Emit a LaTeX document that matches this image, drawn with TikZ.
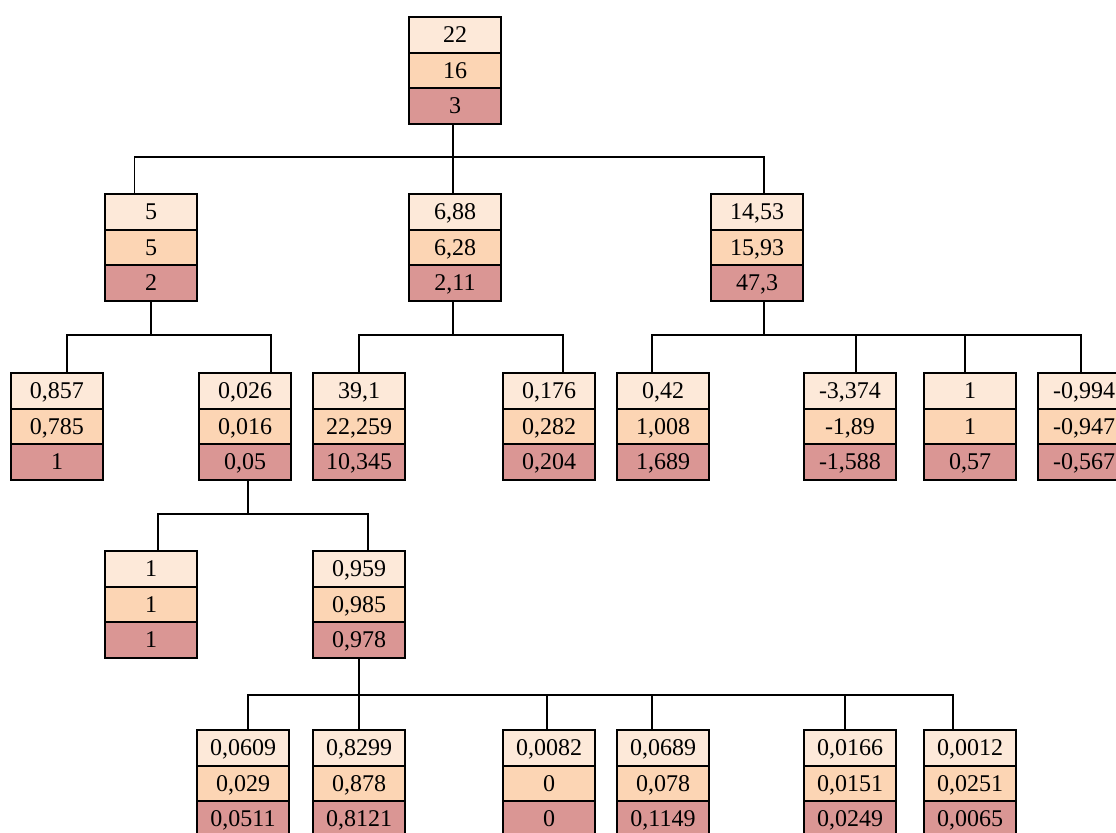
\documentclass[tikz,border=0pt]{standalone}
\usepackage{fontspec}
\setmainfont{Liberation Serif}
\definecolor{cA}{HTML}{FDE9D9}
\definecolor{cB}{HTML}{FCD5B4}
\definecolor{cC}{HTML}{DA9694}
\tikzset{
  cellbase/.style={draw=black,line width=1pt,minimum width=46pt,minimum height=17.75pt,
    inner sep=0pt,outer sep=0pt,text height=0.82em,text depth=0em,
    font=\fontsize{12}{14}\selectfont,anchor=north},
  cella/.style={cellbase,fill=cA},
  cellb/.style={cellbase,fill=cB},
  cellc/.style={cellbase,fill=cC},
  conn/.style={draw=black,line width=0.65pt}
}
\newcommand\tri[6]{%
  \node[cella] (#1) at ({#2+47},{#3+1}) {#4};
  \node[cellb] (#1m) at (#1.south) {#5};
  \node[cellc] (#1b) at (#1m.south) {#6};}
\begin{document}
\begin{tikzpicture}[x=0.5pt,y=-0.5pt]
\useasboundingbox (0,0) rectangle (1116,832);
\clip (0,0) rectangle (1116,832);
% level 0
\tri{r}{408}{16}{22}{16}{3}
% level 1
\tri{a}{104}{193}{5}{5}{2}
\tri{b}{408}{193}{6,88}{6,28}{2,11}
\tri{c}{710}{193}{14,53}{15,93}{47,3}
% level 2
\tri{a1}{10}{372}{0,857}{0,785}{1}
\tri{a2}{198}{372}{0,026}{0,016}{0,05}
\tri{b1}{312}{372}{39,1}{22,259}{10,345}
\tri{b2}{502}{372}{0,176}{0,282}{0,204}
\tri{c1}{616}{372}{0,42}{1,008}{1,689}
\tri{c2}{803}{372}{-3,374}{-1,89}{-1,588}
\tri{c3}{923}{372}{1}{1}{0,57}
\tri{c4}{1037}{372}{-0,994}{-0,947}{-0,567}
% level 3
\tri{d1}{104}{550}{1}{1}{1}
\tri{d2}{312}{550}{0,959}{0,985}{0,978}
% level 4
\tri{e1}{196}{729}{0,0609}{0,029}{0,0511}
\tri{e2}{312}{729}{0,8299}{0,878}{0,8121}
\tri{e3}{502}{729}{0,0082}{0}{0}
\tri{e4}{616}{729}{0,0689}{0,078}{0,1149}
\tri{e5}{803}{729}{0,0166}{0,0151}{0,0249}
\tri{e6}{923}{729}{0,0012}{0,0251}{0,0065}
% bus coordinates
\coordinate (busR) at (0,157);
\coordinate (busA) at (0,335);
\coordinate (busD) at (0,514);
\coordinate (busE) at (0,695);
% root -> level 1
\draw[conn] ([xshift=-1pt]rb.south) -- ([xshift=-1pt]rb.south |- busR);
\draw[conn] ([xshift=-8.25pt]a.north) |- ([xshift=3.5pt]c.north |- busR) -- ([xshift=3.5pt]c.north);
\draw[conn] ([xshift=-1pt]b.north) -- ([xshift=-1pt]b.north |- busR);
% a -> a1, a2
\draw[conn] (ab.south) -- (ab.south |- busA);
\draw[conn] ([xshift=5pt]a1.north) |- ([xshift=13pt]a2.north |- busA) -- ([xshift=13pt]a2.north);
% b -> b1, b2
\draw[conn] ([xshift=-1pt]bb.south) -- ([xshift=-1pt]bb.south |- busA);
\draw[conn] (b1.north) |- ([xshift=7pt]b2.north |- busA) -- ([xshift=7pt]b2.north);
% c -> c1..c4
\draw[conn] ([xshift=3.5pt]cb.south) -- ([xshift=3.5pt]cb.south |- busA);
\draw[conn] ([xshift=-5.5pt]c1.north) |- ([xshift=-1.5pt]c4.north |- busA) -- ([xshift=-1.5pt]c4.north);
\draw[conn] ([xshift=3pt]c2.north) -- ([xshift=3pt]c2.north |- busA);
\draw[conn] ([xshift=-2.5pt]c3.north) -- ([xshift=-2.5pt]c3.north |- busA);
% a2 -> d1, d2
\draw[conn] ([xshift=1.5pt]a2b.south) -- ([xshift=1.5pt]a2b.south |- busD);
\draw[conn] ([xshift=3.5pt]d1.north) |- ([xshift=4.5pt]d2.north |- busD) -- ([xshift=4.5pt]d2.north);
% d2 -> e1..e6
\draw[conn] (d2b.south) -- (e2.north);
\draw[conn] ([xshift=2.5pt]e1.north) |- ([xshift=-8.5pt]e6.north |- busE) -- ([xshift=-8.5pt]e6.north);
\draw[conn] ([xshift=-1pt]e3.north) -- ([xshift=-1pt]e3.north |- busE);
\draw[conn] ([xshift=-5.5pt]e4.north) -- ([xshift=-5.5pt]e4.north |- busE);
\draw[conn] ([xshift=-2.5pt]e5.north) -- ([xshift=-2.5pt]e5.north |- busE);
\end{tikzpicture}
\end{document}
